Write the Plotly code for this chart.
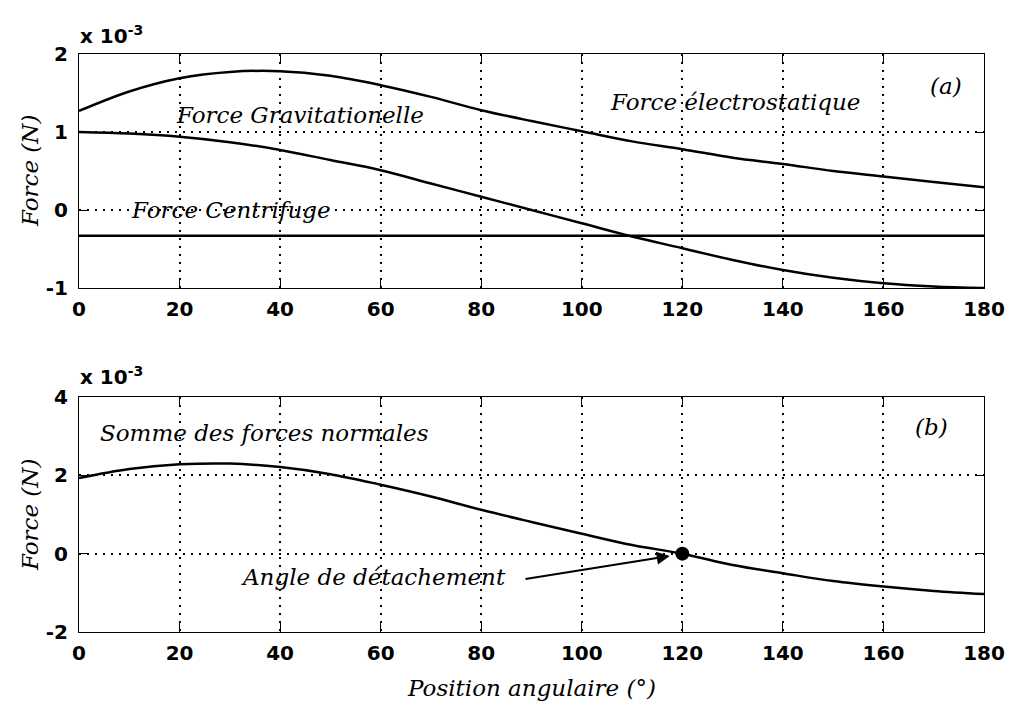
import plotly.graph_objects as go

# Angular position (degrees)
angle = [0, 10, 20, 30, 40, 50, 60, 70, 80, 90, 100, 110, 120, 130, 140, 150, 160, 170, 180]

# Forces (x 1e-3 N)
f_electro = [1.27, 1.52, 1.69, 1.77, 1.78, 1.72, 1.60, 1.45, 1.28, 1.14, 1.01, 0.88, 0.78, 0.67, 0.59, 0.50, 0.43, 0.36, 0.29]
f_gravit = [1.00, 0.98, 0.94, 0.87, 0.77, 0.64, 0.51, 0.34, 0.17, 0.00, -0.17, -0.34, -0.49, -0.64, -0.77, -0.87, -0.94, -0.98, -1.00]
f_centri = [-0.33] * len(angle)
f_sum = [1.93, 2.16, 2.28, 2.30, 2.21, 2.03, 1.76, 1.46, 1.12, 0.81, 0.51, 0.22, 0.00, -0.29, -0.50, -0.70, -0.84, -0.95, -1.03]

detach_angle = [120]
detach_force = [0.0]

x_ticks = [0, 20, 40, 60, 80, 100, 120, 140, 160, 180]
x_tick_labels = ["0", "20", "40", "60", "80", "100", "120", "140", "160", "180"]
y1_ticks = [-1, 0, 1, 2]
y1_tick_labels = ["-1", "0", "1", "2"]
y2_ticks = [-2, 0, 2, 4]
y2_tick_labels = ["-2", "0", "2", "4"]

# page offset (body margin) compensation
O = 8
W, H = 1013 - O, 713 - O
L, R, T, B = 79 - O, 984 - O, 54 - O, 632 - O
PW, PH = R - L, B - T

def fy(ypix):  # reference pixel y -> plot-area fraction
    return (B - (ypix - O)) / PH
def fx(xpix):
    return ((xpix - O) - L) / PW

fig = go.Figure()
line = dict(color="black", width=2.5)
for ys in (f_electro, f_gravit, f_centri):
    fig.add_trace(go.Scatter(x=angle, y=ys, mode="lines", line=line, line_shape="spline",
                             xaxis="x", yaxis="y", showlegend=False, hoverinfo="skip"))
fig.add_trace(go.Scatter(x=angle, y=f_sum, mode="lines", line=line, line_shape="spline",
                         xaxis="x2", yaxis="y2", showlegend=False, hoverinfo="skip"))
fig.add_trace(go.Scatter(x=detach_angle, y=detach_force, mode="markers",
                         marker=dict(color="black", size=14), xaxis="x2", yaxis="y2",
                         showlegend=False, hoverinfo="skip"))

tickfont = dict(family="DejaVu Sans, sans-serif", size=20, color="black", weight="bold")
serif = dict(family="DejaVu Serif, serif", size=23, color="black", style="italic")

common = dict(ticks="inside", ticklen=9, tickcolor="black",
              showline=True, linecolor="black", linewidth=1, mirror="ticks",
              showgrid=True, gridcolor="black", griddash="1.5px,6.5px", gridwidth=1.5,
              zeroline=False, tickfont=tickfont, automargin=False)

fig.update_layout(
    width=W, height=H, margin=dict(l=L, r=W - R, t=T, b=H - B),
    paper_bgcolor="white", plot_bgcolor="white",
    xaxis=dict(domain=[0, 1], anchor="y", range=[0, 180], tickvals=x_ticks, ticktext=x_tick_labels,
               ticklabelstandoff=3, **common),
    yaxis=dict(domain=[fy(288), 1], anchor="x", range=[-1, 2], tickvals=y1_ticks, ticktext=y1_tick_labels,
               ticklabelstandoff=6, **common),
    xaxis2=dict(domain=[0, 1], anchor="y2", range=[0, 180], tickvals=x_ticks, ticktext=x_tick_labels,
                ticklabelstandoff=3, **common),
    yaxis2=dict(domain=[0, fy(397)], anchor="x2", range=[-2, 4], tickvals=y2_ticks, ticktext=y2_tick_labels,
                ticklabelstandoff=6, **common),
)

ann = []
def label(text, x, y, xr, yr, font=serif, xanchor="center", yanchor="middle", **kw):
    ann.append(dict(text=text, x=x, y=y, xref=xr, yref=yr, showarrow=False, font=font,
                    xanchor=xanchor, yanchor=yanchor, **kw))

label("Force Gravitationelle", 44, 1.22, "x", "y")
label("Force électrostatique", 130.4, 1.38, "x", "y")
label("Force Centrifuge", 30.2, 0.0, "x", "y")
label("(a)", 172.4, 1.59, "x", "y")
label("Somme des forces normales", 36.8, 3.08, "x2", "y2")
label("(b)", 169.6, 3.23, "x2", "y2")
label("Angle de détachement", 58.6, -0.6, "x2", "y2")
label("Force (N)", fx(30), fy(171), "paper", "paper", textangle=-90)
label("Force (N)", fx(30), fy(515), "paper", "paper", textangle=-90)
label("Position angulaire (°)", fx(531), fy(688), "paper", "paper")
label("x 10<sup>-3</sup>", fx(78), fy(35), "paper", "paper", font=tickfont, xanchor="left")
label("x 10<sup>-3</sup>", fx(78), fy(376), "paper", "paper", font=tickfont, xanchor="left")

ann.append(dict(x=117.5, y=-0.06, ax=88.5, ay=-0.65, xref="x2", yref="y2", axref="x2", ayref="y2",
                showarrow=True, arrowhead=2, arrowsize=1.3, arrowwidth=2, arrowcolor="black",
                standoff=0, text=""))
fig.update_layout(annotations=ann)

fig.write_html("out.html")
